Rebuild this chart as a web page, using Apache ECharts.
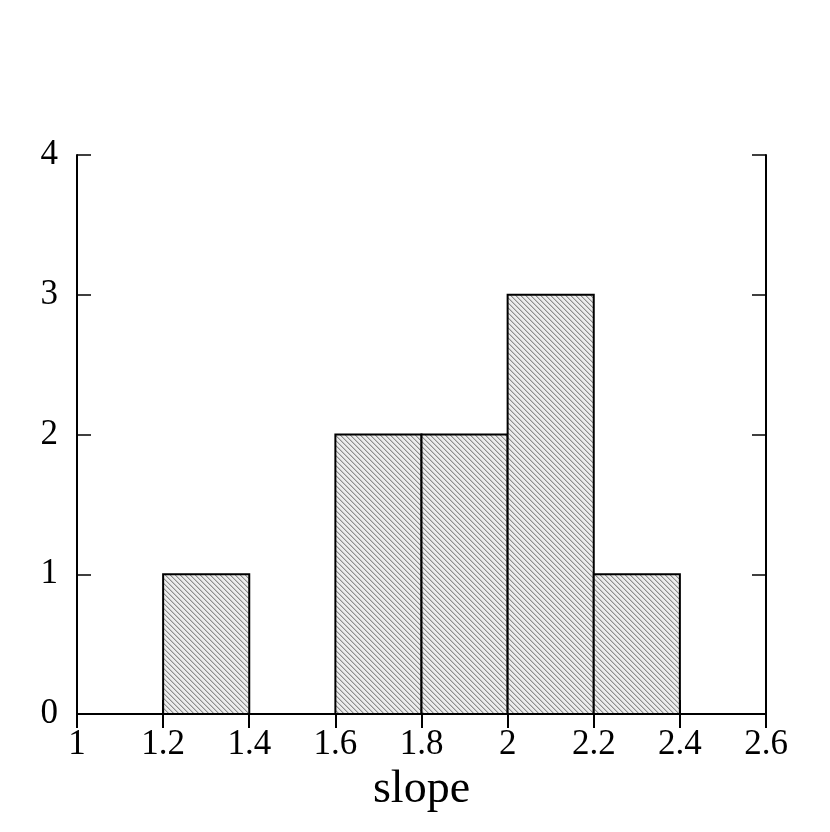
<!DOCTYPE html>
<html>
<head>
<meta charset="utf-8">
<script src="https://cdn.jsdelivr.net/npm/echarts@6/dist/echarts.min.js"></script>
<style>
html, body { margin: 0; padding: 0; background: #fff; }
#chart { width: 830px; height: 832px; }
</style>
</head>
<body>
<div id="chart"></div>
<script>
// histogram bins: [start, end] and counts
var binStart = [1.2, 1.6, 1.8, 2.0, 2.2];
var binEnd = [1.4, 1.8, 2.0, 2.2, 2.4];
var counts = [1, 2, 2, 3, 1];

// hatched fill like the original
var pat = document.createElement('canvas');
pat.width = 5; pat.height = 5;
var ctx = pat.getContext('2d');
ctx.fillStyle = '#ececec';
ctx.fillRect(0, 0, 5, 5);
for (var i = 0; i < 5; i++) {
    ctx.fillStyle = '#8e8e8e';
    ctx.fillRect(i, i, 1, 1);
    ctx.fillStyle = '#c4c4c4';
    ctx.fillRect((i + 1) % 5, i, 1, 1);
}

var data = [];
for (var k = 0; k < counts.length; k++) {
    data.push([binStart[k], binEnd[k], counts[k]]);
}

var font = '"Liberation Serif", "DejaVu Serif", serif';
var lineStyle = { color: '#000', width: 2 };

var chart = echarts.init(document.getElementById('chart'));
var option = {
    animation: false,
    grid: { left: 77, right: 64, top: 155, bottom: 118 },
    xAxis: [{
        type: 'value',
        min: 1, max: 2.6, interval: 0.2,
        name: 'slope',
        nameLocation: 'middle',
        nameGap: 52,
        nameTextStyle: { fontFamily: font, fontSize: 46, color: '#000' },
        axisLine: { lineStyle: lineStyle },
        axisTick: { inside: true, length: 14, lineStyle: lineStyle },
        axisLabel: {
            fontFamily: font, fontSize: 35, color: '#000', margin: 13,
            formatter: function (v) { return String(+v.toFixed(1)); }
        },
        splitLine: { show: false }
    }, {
        type: 'value', position: 'top',
        min: 1, max: 2.6, interval: 0.2,
        axisLine: { lineStyle: { color: '#000', width: 1.5 } },
        axisTick: { inside: true, length: 14, lineStyle: lineStyle },
        axisLabel: { show: false },
        splitLine: { show: false }
    }],
    yAxis: [{
        type: 'value',
        min: 0, max: 4, interval: 1,
        axisLine: { show: true, lineStyle: lineStyle },
        axisTick: { show: true, inside: true, length: 14, lineStyle: { color: '#000', width: 1.5 } },
        axisLabel: { fontFamily: font, fontSize: 35, color: '#000', margin: 19 },
        splitLine: { show: false }
    }, {
        type: 'value', position: 'right',
        min: 0, max: 4, interval: 1,
        axisLine: { show: true, lineStyle: lineStyle },
        axisTick: { show: true, inside: true, length: 14, lineStyle: { color: '#000', width: 1.5 } },
        axisLabel: { show: false },
        splitLine: { show: false }
    }],
    series: [{
        type: 'custom',
        data: data,
        encode: { x: [0, 1], y: 2 },
        renderItem: function (params, api) {
            var p0 = api.coord([api.value(0), 0]);
            var p1 = api.coord([api.value(1), api.value(2)]);
            return {
                type: 'rect',
                shape: { x: p0[0], y: p1[1], width: p1[0] - p0[0], height: p0[1] - p1[1] },
                style: {
                    fill: { image: pat, repeat: 'repeat' },
                    stroke: '#000',
                    lineWidth: 2
                }
            };
        }
    }]
};
chart.setOption(option);
</script>
</body>
</html>
